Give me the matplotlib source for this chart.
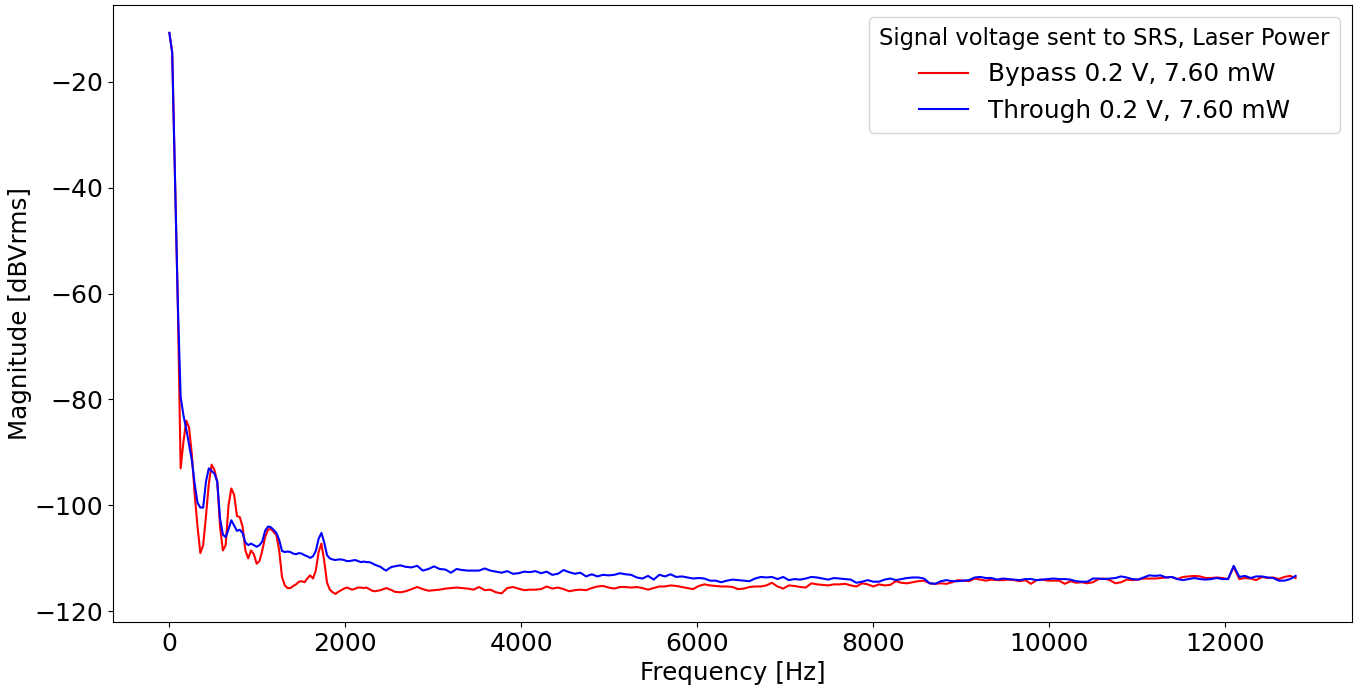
import matplotlib
matplotlib.use("Agg")
import matplotlib.pyplot as plt
import numpy as np

# -------------------------
# Spectrum data
# -------------------------
# low band: 0 .. 2560 Hz, 32 Hz bins
freq_low = np.arange(0, 2561, 32)
bypass_low = [
    -10.8, -14.5, -38.0, -62.0, -93.0, -88.0, -84.0, -85.3, -90.5, -98.0,
    -104.0, -109.0, -107.5, -102.0, -96.0, -92.3, -93.3, -95.5, -104.0, -108.5,
    -107.5, -100.0, -96.8, -98.0, -102.0, -102.2, -104.0, -108.5, -110.0, -108.5,
    -109.2, -111.0, -110.5, -108.5, -106.0, -104.6, -104.4, -105.0, -105.6, -108.5,
    -113.5, -115.1, -115.6, -115.6, -115.2, -114.9, -114.4, -114.3, -114.5, -113.8,
    -113.2, -113.8, -112.3, -108.8, -107.2, -110.5, -114.6, -115.9, -116.4, -116.7,
    -116.3, -116.0, -115.7, -115.5, -115.7, -115.9, -115.7, -115.5, -115.5, -115.6,
    -115.5, -115.8, -116.1, -116.2, -116.1, -116.0, -115.8, -115.6, -115.8, -116.0,
    -116.3,
]
through_low = [
    -10.8, -14.5, -38.0, -62.0, -79.5, -83.0, -85.6, -88.5, -91.5, -96.0,
    -99.5, -100.4, -100.4, -95.5, -93.0, -93.5, -94.0, -95.5, -102.5, -105.5,
    -106.0, -104.5, -102.8, -103.8, -104.8, -104.6, -105.2, -107.0, -107.5, -107.2,
    -107.5, -107.8, -107.5, -106.8, -104.8, -104.0, -104.1, -104.6, -105.2, -106.5,
    -108.6, -108.8, -108.7, -108.8, -109.1, -109.2, -109.0, -109.1, -109.4, -109.6,
    -109.9, -109.6, -108.6, -106.3, -105.2, -107.0, -109.4, -110.0, -110.2, -110.3,
    -110.2, -110.2, -110.3, -110.5, -110.5, -110.4, -110.3, -110.5, -110.7, -110.6,
    -110.7, -110.7, -110.9, -111.2, -111.4, -111.6, -112.0, -112.3, -111.9, -111.6,
    -111.5,
]

# high band: 2624 .. 12800 Hz, 64 Hz bins
freq_high = np.arange(2624, 12801, 64)
bypass_high = [
    -116.4, -116.2, -115.8, -115.4, -115.8, -116.1, -116.0, -115.9, -115.7, -115.6,
    -115.5, -115.6, -115.7, -115.9, -115.4, -116.0, -115.9, -116.4, -116.6, -115.6,
    -115.4, -115.7, -116.0, -115.9, -115.9, -115.8, -115.3, -115.7, -115.5, -115.8,
    -116.2, -116.0, -115.9, -116.0, -115.6, -115.3, -115.2, -115.5, -115.7, -115.4,
    -115.4, -115.5, -115.4, -115.6, -115.9, -115.6, -115.3, -115.3, -115.1, -115.2,
    -115.4, -115.6, -115.8, -115.2, -114.9, -115.1, -115.2, -115.3, -115.3, -115.4,
    -115.8, -115.7, -115.4, -115.3, -115.3, -115.1, -114.6, -115.3, -115.7, -115.1,
    -115.2, -115.4, -115.5, -114.7, -114.9, -115.0, -115.1, -114.9, -114.9, -114.8,
    -115.1, -115.3, -114.7, -114.9, -115.3, -114.9, -115.1, -115.0, -114.3, -114.6,
    -114.7, -114.5, -114.3, -114.2, -114.7, -114.8, -114.7, -114.8, -114.5, -114.1,
    -114.2, -114.3, -113.8, -114.0, -114.2, -114.0, -114.1, -114.1, -114.0, -114.1,
    -114.3, -114.1, -114.8, -114.1, -114.0, -114.2, -114.2, -114.2, -114.8, -114.3,
    -114.6, -114.5, -114.7, -114.5, -113.9, -113.8, -114.1, -114.7, -114.5, -114.0,
    -114.1, -114.0, -113.8, -113.8, -113.8, -113.7, -113.6, -113.5, -113.9, -113.5,
    -113.4, -113.3, -113.4, -113.7, -113.7, -113.6, -113.7, -113.9, -111.6, -113.9,
    -113.7, -113.8, -114.1, -113.5, -113.7, -113.6, -113.9, -113.5, -113.3, -113.7,
]
through_high = [
    -111.3, -111.6, -111.7, -111.4, -112.3, -112.0, -111.5, -112.0, -112.1, -112.7,
    -112.0, -112.2, -112.3, -112.3, -112.3, -111.9, -112.3, -112.5, -112.7, -112.4,
    -112.9, -112.8, -112.5, -112.6, -112.4, -112.8, -112.5, -113.1, -112.9, -112.2,
    -112.6, -112.9, -112.7, -113.4, -113.0, -113.4, -113.1, -113.2, -113.1, -112.8,
    -113.0, -113.1, -113.6, -113.8, -113.3, -114.0, -113.1, -113.4, -113.0, -113.5,
    -113.4, -113.6, -113.8, -113.7, -113.8, -114.2, -114.2, -114.5, -114.2, -114.0,
    -114.1, -114.2, -114.3, -113.8, -113.5, -113.6, -113.5, -113.9, -113.5, -114.1,
    -113.9, -114.0, -113.8, -113.5, -113.6, -113.8, -114.0, -113.7, -113.8, -113.9,
    -114.0, -114.6, -114.4, -114.1, -114.4, -114.4, -114.0, -113.8, -114.1, -113.9,
    -113.7, -113.6, -113.6, -113.8, -114.7, -114.8, -114.3, -114.1, -114.3, -114.3,
    -114.2, -114.1, -113.6, -113.5, -113.7, -113.7, -114.0, -113.8, -113.9, -114.0,
    -114.1, -113.9, -113.9, -114.1, -114.0, -113.9, -113.8, -113.9, -113.9, -114.0,
    -114.3, -114.4, -114.4, -113.8, -113.8, -113.9, -113.8, -113.7, -113.4, -113.6,
    -113.9, -114.0, -113.6, -113.2, -113.3, -113.2, -113.6, -113.5, -113.9, -114.1,
    -113.9, -113.7, -113.9, -114.0, -113.9, -113.7, -113.9, -113.9, -111.4, -113.5,
    -113.3, -113.7, -113.4, -113.4, -113.6, -113.7, -114.2, -114.2, -113.9, -113.3,
]

freq = np.concatenate([freq_low, freq_high])
bypass = np.concatenate([bypass_low, bypass_high])
through = np.concatenate([through_low, through_high])

labels = ["Bypass 0.2 V, 7.60 mW", "Through 0.2 V, 7.60 mW"]
legend_title = "Signal voltage sent to SRS, Laser Power"

# -------------------------
# Plot
# -------------------------
fig, ax = plt.subplots(figsize=(13.54, 6.88), dpi=100)
fig.subplots_adjust(left=0.0835, right=0.9985, bottom=0.096, top=0.993)

ax.plot(freq, bypass, color="red", linewidth=1.5, label=labels[0])
ax.plot(freq, through, color="blue", linewidth=1.5, label=labels[1])

ax.set_xlabel("Frequency [Hz]", fontsize=17.7)
ax.set_ylabel("Magnitude [dBVrms]", fontsize=17.7, labelpad=2)
ax.tick_params(labelsize=18)

ax.legend(title=legend_title, fontsize=17.8, title_fontsize=16.3,
          loc="upper right")

fig.savefig("out.png", dpi=100)
